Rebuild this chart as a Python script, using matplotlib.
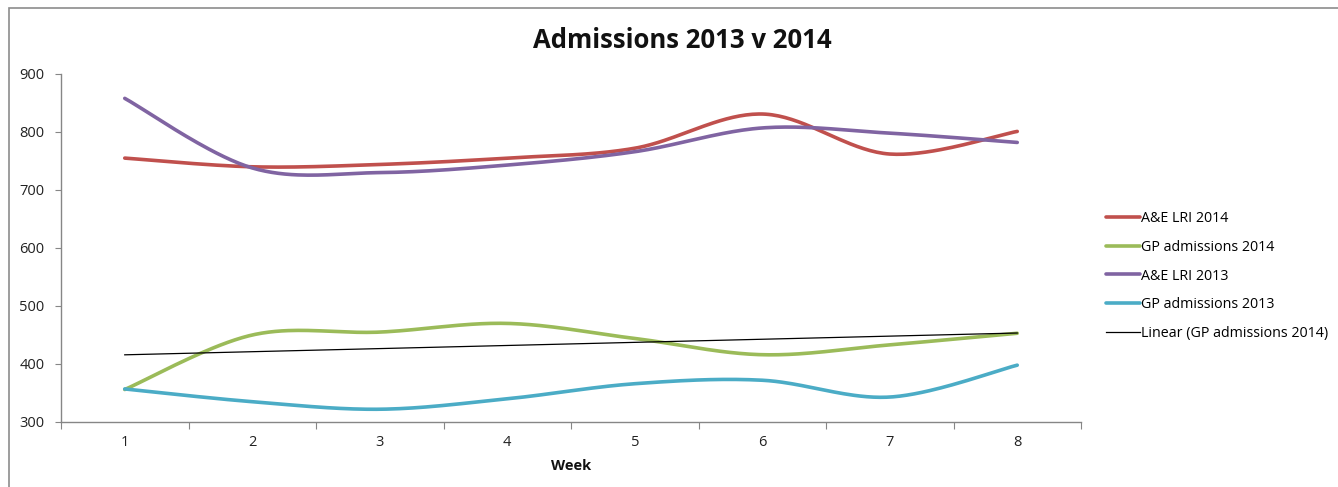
import numpy as np
import matplotlib
matplotlib.use("Agg")
import matplotlib.pyplot as plt
from matplotlib.patches import Rectangle

plt.rcParams['font.family'] = ['Open Sans', 'DejaVu Sans']

# data
weeks = [1, 2, 3, 4, 5, 6, 7, 8]
ae_2014 = [755, 740, 744, 755, 772, 831, 762, 801]
gp_2014 = [356, 450, 455, 470, 444, 416, 433, 453]
ae_2013 = [858, 738, 730, 743, 766, 807, 798, 782]
gp_2013 = [357, 335, 322, 340, 366, 372, 343, 398]

labels = ['A&E LRI 2014', 'GP admissions 2014', 'A&E LRI 2013', 'GP admissions 2013']
colors = ['#C0504D', '#9BBB59', '#8064A2', '#4BACC6']
yticks = [300, 400, 500, 600, 700, 800, 900]


# Excel style smoothed line (cubic bezier, tension 1/6)
def smooth(x, y, n=40):
    p = np.column_stack([x, y]).astype(float)
    ext = np.vstack([p[0], p, p[-1]])
    out = []
    for i in range(len(p) - 1):
        p0, p3 = ext[i + 1], ext[i + 2]
        c1 = p0 + (ext[i + 2] - ext[i]) / 6
        c2 = p3 - (ext[i + 3] - ext[i + 1]) / 6
        t = np.linspace(0, 1, n)[:, None]
        seg = (1 - t) ** 3 * p0 + 3 * (1 - t) ** 2 * t * c1 + 3 * (1 - t) * t ** 2 * c2 + t ** 3 * p3
        out.append(seg if i == 0 else seg[1:])
    pts = np.vstack(out)
    return pts[:, 0], pts[:, 1]


fig = plt.figure(figsize=(13.38, 4.87), dpi=100)
ax = fig.add_axes([61 / 1338, 1 - 422 / 487, (1081 - 61) / 1338, (422 - 74) / 487])

# outer chart border
fig.patches.append(Rectangle((9 / 1338, -0.1), 1.2, 1 - 8 / 487 + 0.1, transform=fig.transFigure,
                             fill=False, edgecolor='#8c8c8c', linewidth=1.2))

for vals, lab, col in zip([ae_2014, gp_2014, ae_2013, gp_2013], labels, colors):
    sx, sy = smooth(weeks, vals)
    ax.plot(sx, sy, color=col, linewidth=2.6, label=lab, solid_capstyle='round')

# linear trend of GP admissions 2014
k, b = np.polyfit(weeks, gp_2014, 1)
wx = np.array([weeks[0], weeks[-1]])
ax.plot(wx, k * wx + b, color='black', linewidth=0.9, label='Linear (GP admissions 2014)')

ax.set_xlim(0.5, 8.5)
ax.set_ylim(300, 900)
ax.set_yticks(yticks)
ax.set_xticks(np.arange(0.5, 9, 1))
ax.set_xticklabels([])
ax.set_xticks(weeks, minor=True)
ax.set_xticklabels([str(w) for w in weeks], minor=True)
ax.tick_params(axis='x', which='major', length=5, color='#868686', direction='out')
ax.tick_params(axis='x', which='minor', length=0, pad=9, labelsize=10.5, labelcolor='#222222')
ax.tick_params(axis='y', length=4, color='#868686', pad=8, labelsize=10.5, labelcolor='#222222')
for s in ['top', 'right']:
    ax.spines[s].set_visible(False)
for s in ['left', 'bottom']:
    ax.spines[s].set_color('#868686')
    ax.spines[s].set_linewidth(1)

fig.text(682 / 1338, 1 - 41 / 487, 'Admissions 2013 v 2014', ha='center', va='center',
         fontsize=18.5, fontweight='bold', color='#111111')
fig.text(571 / 1338, 1 - 466 / 487, 'Week', ha='center', va='center',
         fontsize=10.5, fontweight='bold', color='#111111')

fig.legend(loc='center left', bbox_to_anchor=(1099 / 1338, 1 - 276 / 487), frameon=False,
           fontsize=10.3, handlelength=2.4, handletextpad=0.05, labelspacing=0.95, borderpad=0)

fig.savefig('out.png', dpi=100)
